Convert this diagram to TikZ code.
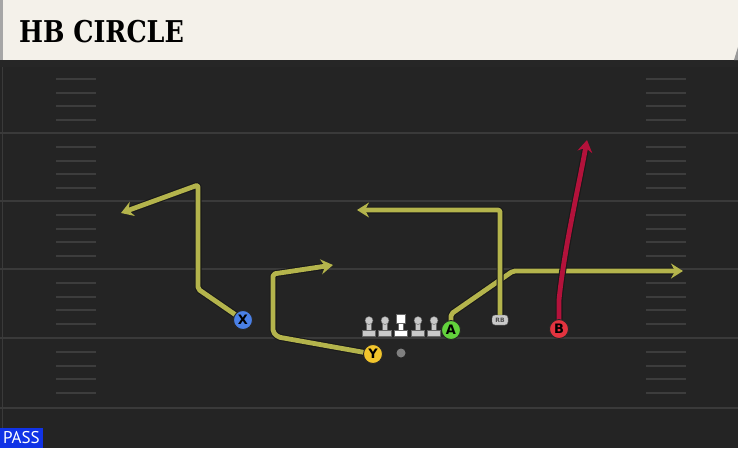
\documentclass[tikz,border=0pt]{standalone}
\usepackage{fontspec}
\usetikzlibrary{arrows.meta}
\usetikzlibrary{positioning}
\newfontfamily\titlefont{DejaVu Serif Condensed}
\newfontfamily\labelfont{DejaVu Sans}
\newfontfamily\tagfont{PT Sans}
\definecolor{header}{HTML}{F4F1EA}
\definecolor{field}{HTML}{242424}
\definecolor{yardline}{HTML}{3A3A3A}
\definecolor{hashmark}{HTML}{3D3D3D}
\definecolor{routecol}{HTML}{B4B44C}
\definecolor{hotroute}{HTML}{B3123B}
\definecolor{xblue}{HTML}{4A80E6}
\definecolor{yyellow}{HTML}{F2C52C}
\definecolor{agreen}{HTML}{62D23C}
\definecolor{bred}{HTML}{E3333F}
\definecolor{linegray}{HTML}{C9C9C9}
\definecolor{passblue}{HTML}{1133E6}
\begin{document}
\begin{tikzpicture}[x=1pt,y=-1pt,>={Stealth[length=12pt,width=15pt,inset=4pt]},
				line join=round]
				\tikzstyle{player}=[circle,draw=black!85,line width=0.9pt,minimum size=19pt,inner sep=0pt,
					font=\labelfont\bfseries\fontsize{13}{13}\selectfont]
				\tikzstyle{back}=[rounded corners=3pt,fill=linegray,draw=black!60,line width=0.4pt,
					inner sep=0pt,minimum width=16pt,minimum height=10pt,text=black!70,
					font=\labelfont\bfseries\fontsize{6}{6}\selectfont]
				\tikzstyle{route}=[draw=routecol,line width=4.8pt,->,rounded corners=2pt,
					preaction={draw=black!90,line width=7pt}]
				\tikzstyle{hot route}=[route,draw=hotroute]
				\tikzstyle{lineman}=[fill=linegray,draw=black!60,line width=0.4pt]
				
				% field and header
				\fill[field] (0,0) rectangle (738,448);
				\useasboundingbox (0,0) rectangle (738,448);
				\fill[black!85] (0,58) rectangle (738,67);
				\fill[header] (0,0) rectangle (738,60);
				\fill[black!35] (0,0) rectangle (3,60);
				\fill[black!40] (738,47) -- (734,60) -- (738,60) -- cycle;
				\node[anchor=base west,inner sep=0pt,font=\titlefont\bfseries\fontsize{30}{30}\selectfont,
					xscale=0.94] (title) at (19,42) {HB CIRCLE};
				\draw[yardline,line width=1pt] (2,67) -- (2,448);
				\foreach \y in {133,201,269,338,408}
				\draw[yardline,line width=2pt] (0,\y) -- (738,\y);
				\foreach \b in {65,133,201,269,338}
				\foreach \d in {14,28,41,55}
				{
					\draw[hashmark,line width=1.5pt] (56,\b+\d) -- (96,\b+\d);
					\draw[hashmark,line width=1.5pt] (646,\b+\d) -- (686,\b+\d);
				}
				
				% offensive line and qb
				\foreach \x in {369,385,418,434}
				{
					\filldraw[lineman] (\x-2.5,321) rectangle (\x+2.5,331);
					\filldraw[lineman] (\x-6.5,330) rectangle (\x+6.5,336);
					\filldraw[lineman] (\x,320.5) circle (4pt);
				}
				\filldraw[lineman,fill=white] (398.5,322) rectangle (403.5,331);
				\filldraw[lineman,fill=white] (394.5,330) rectangle (407.5,336);
				\filldraw[lineman,fill=white] (396.5,314) rectangle (405.5,323);
				\fill[black!50] (401,353) circle (4.5pt);
				
				% alignment spots
				\coordinate (Xspot)  at (243,320);
				\coordinate (Yspot)  at (373,354);
				\coordinate (Aspot)  at (451,330);
				\coordinate (Bspot)  at (559,329);
				\coordinate (RBspot) at (500,320);
				
				% routes
				\draw[route] (Xspot) -- (198,289) -- (198,185) -- (121,213);
				\draw[route] (Yspot) -- (278,337) -- (273,332) -- (273,274) -- (333,265);
				\draw[route] (Aspot) -- (451,314) -- (513,271) -- (683,271);
				\draw[route] (RBspot) -- (500,210) -- (357,210);
				\draw[hot route,rounded corners=0pt] (Bspot) -- (559,300)
					.. controls (564,250) and (578,190) .. (587,140);
				
				% players
				\node[player,fill=xblue]   (X)  at (Xspot)  {X};
				\node[player,fill=yyellow] (Y)  at (Yspot)  {Y};
				\node[player,fill=agreen]  (A)  at (Aspot)  {A};
				\node[player,fill=bred]    (B)  at (Bspot)  {B};
				\node[back]                (RB) at (RBspot) {RB};
				
				\node[anchor=south west,fill=passblue,text=white,inner xsep=3pt,inner ysep=0pt,
					minimum height=20pt,font=\tagfont\fontsize{17}{17}\selectfont] (pass) at (0,448) {PASS};
				\end{tikzpicture}
\end{document}
